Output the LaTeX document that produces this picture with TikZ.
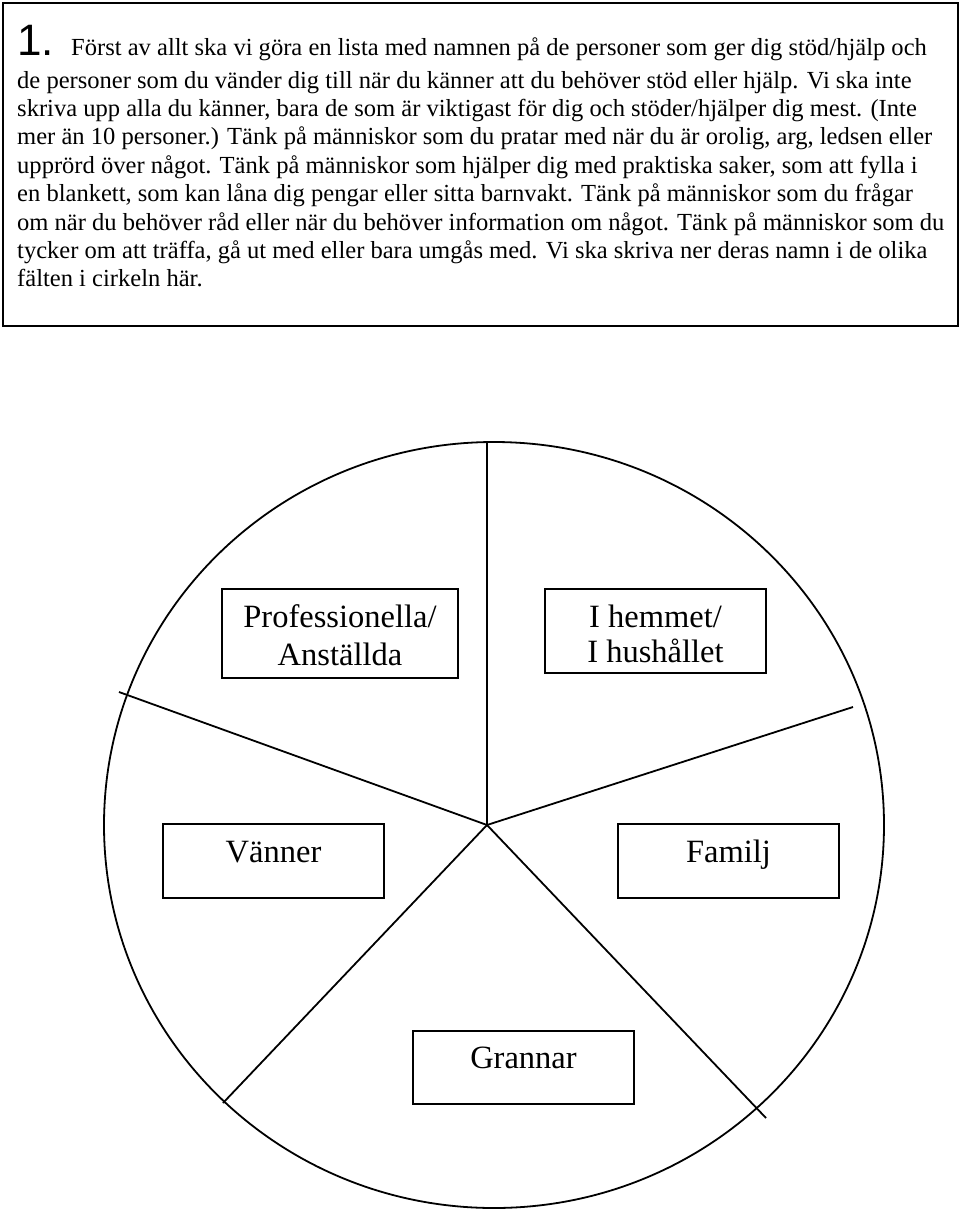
\documentclass[tikz,border=0pt]{standalone}
\usepackage{fontspec}
\setmainfont{Liberation Serif}
\setsansfont{Liberation Sans}
\begin{document}
\begin{tikzpicture}[x=1pt,y=-1pt,
  line/.style={line width=1.8pt, black},
  txt/.style={anchor=base west, inner sep=0pt, font=\fontsize{24.55}{28}\selectfont},
  lbox/.style={draw, line width=1.8pt, inner sep=0pt},
  ltxt/.style={anchor=base, inner sep=0pt, font=\fontsize{32.5}{38}\selectfont}]
\useasboundingbox (0,0) rectangle (960,1211);
% intro box
\node[draw, line width=2pt, minimum width=955pt, minimum height=323pt, inner sep=0pt, anchor=north west] (intro) at (2,2) {};
\node[anchor=base west, inner sep=0pt, font=\sffamily\fontsize{44}{44}\selectfont] (num) at (17,55) {1.};
\node[txt] (l1) at (71,55) {Först av allt ska vi göra en lista med namnen på de personer som ger dig stöd/hjälp och};
\node[txt] (l2) at (17,88) {de personer som du vänder dig till när du känner att du behöver stöd eller hjälp. Vi ska inte};
\node[txt] (l3) at (17,116.4) {skriva upp alla du känner, bara de som är viktigast för dig och stöder/hjälper dig mest. (Inte};
\node[txt] (l4) at (17,144.8) {mer än 10 personer.) Tänk på människor som du pratar med när du är orolig, arg, ledsen eller};
\node[txt] (l5) at (17,173.2) {upprörd över något. Tänk på människor som hjälper dig med praktiska saker, som att fylla i};
\node[txt] (l6) at (17,201.6) {en blankett, som kan låna dig pengar eller sitta barnvakt. Tänk på människor som du frågar};
\node[txt] (l7) at (17,230) {om när du behöver råd eller när du behöver information om något. Tänk på människor som du};
\node[txt] (l8) at (17,258.4) {tycker om att träffa, gå ut med eller bara umgås med. Vi ska skriva ner deras namn i de olika};
\node[txt] (l9) at (17,286.8) {fälten i cirkeln här.};
% circle
\draw[line] (494,825) ellipse [x radius=390pt, y radius=383pt];
\coordinate (c) at (487,825);
\coordinate (top) at (487,443);
\coordinate (ul) at (119,692);
\coordinate (ur) at (853,707);
\coordinate (ll) at (223,1103);
\coordinate (lr) at (766,1118);
\draw[line] (c) -- (top);
\draw[line] (c) -- (ul);
\draw[line] (c) -- (ur);
\draw[line] (c) -- (ll);
\draw[line] (c) -- (lr);
% label boxes
\node[lbox, minimum width=236pt, minimum height=89pt] (prof) at (340,633.5) {};
\node[ltxt] (proft1) at ([yshift=-39pt]prof.north) {Professionella/};
\node[ltxt] (proft2) at ([yshift=-77pt]prof.north) {Anställda};
\node[lbox, minimum width=221pt, minimum height=84pt] (hem) at (655.5,631) {};
\node[ltxt] (hemt1) at ([yshift=-39pt]hem.north) {I hemmet/};
\node[ltxt] (hemt2) at ([yshift=-74pt]hem.north) {I hushållet};
\node[lbox, minimum width=221pt, minimum height=74pt] (van) at (273.5,861) {};
\node[ltxt] (vant) at ([yshift=-39pt]van.north) {Vänner};
\node[lbox, minimum width=221pt, minimum height=74pt] (fam) at (728.5,861) {};
\node[ltxt] (famt) at ([yshift=-39pt]fam.north) {Familj};
\node[lbox, minimum width=221pt, minimum height=73pt] (gran) at (523.5,1067.5) {};
\node[ltxt] (grant) at ([yshift=-38pt]gran.north) {Grannar};
\end{tikzpicture}
\end{document}
